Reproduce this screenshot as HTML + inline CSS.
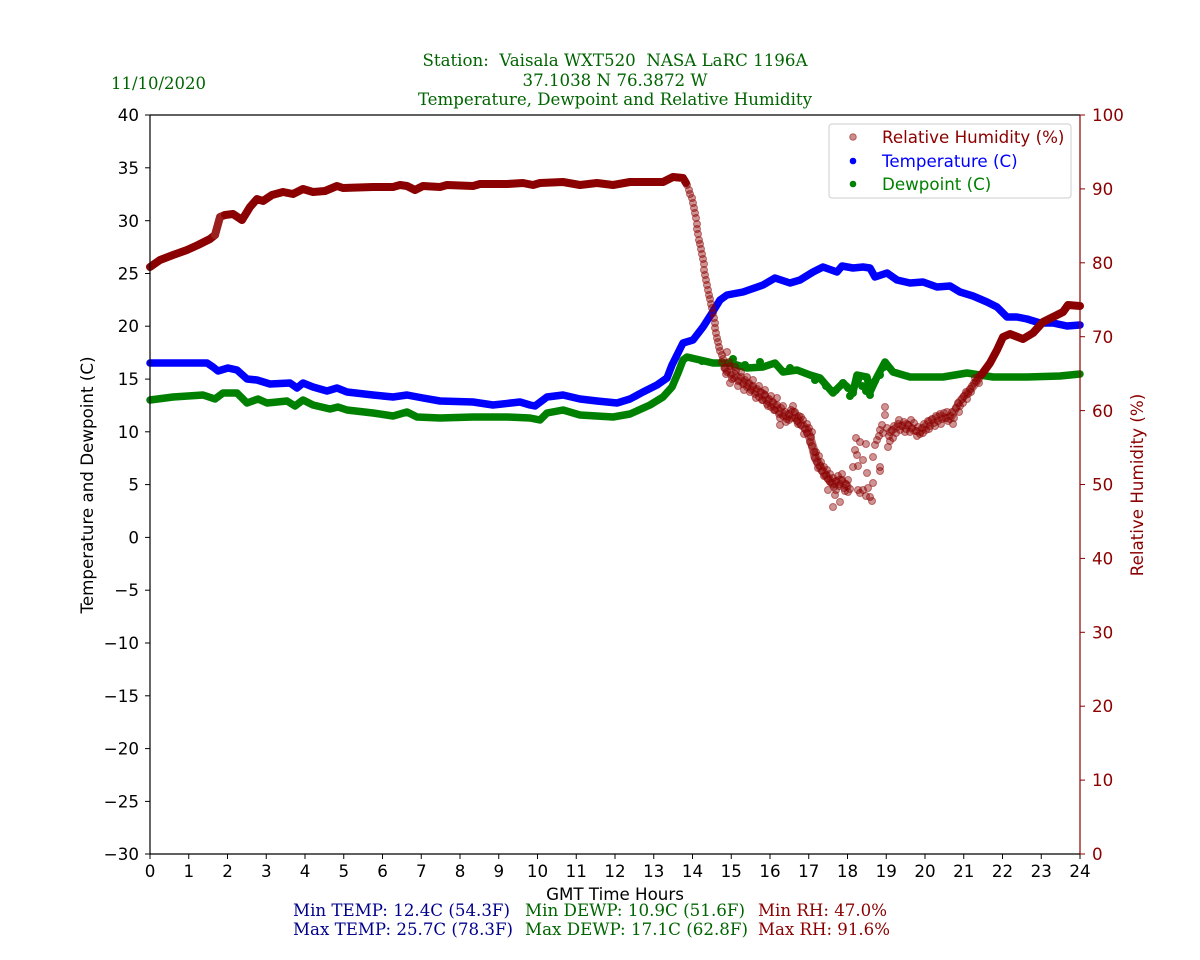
<!DOCTYPE html>
<html><head><meta charset="utf-8"><style>
html,body{margin:0;padding:0;background:#fff;}
svg{display:block;}
.t{font-family:"DejaVu Sans","Liberation Sans",sans-serif;font-size:16.7px;}
.s{font-family:"DejaVu Serif","Liberation Serif",serif;font-size:16.5px;font-stretch:condensed;}
</style></head><body>
<svg width="1200" height="960" viewBox="0 0 1200 960" xmlns="http://www.w3.org/2000/svg">
<rect width="1200" height="960" fill="#fff"/>
<!-- titles -->
<g class="s" fill="#006400">
<text x="615" y="66" text-anchor="middle" textLength="385" lengthAdjust="spacingAndGlyphs">Station:&#160; Vaisala WXT520&#160; NASA LaRC 1196A</text>
<text x="615" y="86" text-anchor="middle" textLength="185" lengthAdjust="spacingAndGlyphs">37.1038 N 76.3872 W</text>
<text x="615" y="105" text-anchor="middle" textLength="394" lengthAdjust="spacingAndGlyphs">Temperature, Dewpoint and Relative Humidity</text>
<text x="111" y="89" textLength="95" lengthAdjust="spacingAndGlyphs">11/10/2020</text>
</g>
<!-- stats -->
<g class="s">
<text x="293" y="916" fill="#00008b" textLength="217" lengthAdjust="spacingAndGlyphs">Min TEMP: 12.4C (54.3F)</text>
<text x="293" y="935" fill="#00008b" textLength="220" lengthAdjust="spacingAndGlyphs">Max TEMP: 25.7C (78.3F)</text>
<text x="525" y="916" fill="#006400" textLength="220" lengthAdjust="spacingAndGlyphs">Min DEWP: 10.9C (51.6F)</text>
<text x="525" y="935" fill="#006400" textLength="223" lengthAdjust="spacingAndGlyphs">Max DEWP: 17.1C (62.8F)</text>
<text x="758" y="916" fill="#8b0000" textLength="129" lengthAdjust="spacingAndGlyphs">Min RH: 47.0%</text>
<text x="758" y="935" fill="#8b0000" textLength="132" lengthAdjust="spacingAndGlyphs">Max RH: 91.6%</text>
</g>

<!-- data: temperature -->
<polyline fill="none" stroke="#0000ff" stroke-width="7.5" stroke-linejoin="round" stroke-linecap="round" points="150,363 207,363 213,367 218,371 228,368 237,370 247,379 257,380 270,384 290,383 297,388 303,383 313,387 327,391 337,388 347,392 373,395 393,397 407,395 423,398 440,401 473,402 493,405 520,402 530,405 535,406 547,397 563,395 580,399 597,401 617,403 630,399 643,392 657,385 667,378 672,365 678,353 683,343 693,340 703,327 712,313 720,300 727,295 743,292 763,285 775,278 790,283 800,280 813,272 823,267 837,272 842,266 853,268 863,267 870,268 875,277 887,273 897,280 910,283 923,282 937,287 950,286 960,292 973,296 987,302 997,307 1007,317 1017,317 1027,319 1040,323 1053,323 1067,326 1080,325"/>
<!-- data: dewpoint -->
<polyline fill="none" stroke="#008000" stroke-width="7.5" stroke-linejoin="round" stroke-linecap="round" points="150,400 173,397 203,395 215,399 223,393 237,393 247,403 258,399 267,403 287,401 295,406 303,400 313,405 330,409 338,407 347,410 373,413 393,416 407,412 417,417 440,418 473,417 507,417 530,418 540,420 547,413 563,410 580,415 613,417 630,414 650,405 663,397 672,387 678,373 683,360 687,357 713,363 730,363 747,368 763,367 775,363 783,372 797,370 810,375 820,378 833,393 843,383 853,392 857,375 867,377 870,392 877,377 885,362 893,372 910,377 943,377 967,373 993,377 1027,377 1060,376 1080,374"/>
<g fill="#008000">
<circle cx="843" cy="383" r="4"/><circle cx="848" cy="388" r="4"/><circle cx="853" cy="393" r="4"/><circle cx="858" cy="380" r="4"/><circle cx="862" cy="386" r="4"/><circle cx="866" cy="391" r="4"/><circle cx="870" cy="395" r="4"/><circle cx="875" cy="381" r="4"/><circle cx="880" cy="375" r="4"/><circle cx="884" cy="367" r="4"/><circle cx="850" cy="396" r="4"/><circle cx="836" cy="390" r="4"/><circle cx="826" cy="386" r="4"/><circle cx="815" cy="380" r="4"/><circle cx="733" cy="359" r="4"/><circle cx="760" cy="362" r="4"/><circle cx="702" cy="361" r="4"/><circle cx="745" cy="365" r="4"/><circle cx="790" cy="368" r="4"/>
</g>

<!-- data: RH dense segments -->
<polyline fill="none" stroke="#8b0000" stroke-width="8" stroke-linejoin="round" stroke-linecap="round" points="150,267 160,260 173,255 187,250 198,245 210,239 215,235"/>
<polyline fill="none" stroke="#9a2020" stroke-width="8" stroke-linejoin="round" stroke-linecap="round" points="215,235 220,217 225,215"/>
<polyline fill="none" stroke="#8b0000" stroke-width="8" stroke-linejoin="round" stroke-linecap="round" points="225,215 233,214 242,220 250,207 257,199 263,201 272,195 283,192 293,194 303,189 313,192 325,191 337,186 343,188 373,187 393,187 400,185 407,186 415,190 423,186 440,187 447,185 473,186 480,184 507,184 523,183 533,185 540,183 563,182 580,185 597,183 613,185 630,182 663,182 673,177 683,178 686,183"/>
<polyline fill="none" stroke="#8b0000" stroke-width="8" stroke-linejoin="round" stroke-linecap="round" points="982,374 990,363 997,350 1003,337 1010,334 1023,339 1033,333 1043,322 1053,317 1063,312 1068,305 1080,306"/>
<!-- band core -->
<polyline fill="none" stroke="#8b0000" stroke-opacity="0.6" stroke-width="9" stroke-linejoin="round" stroke-linecap="round" points="725,368 733,373 740,380 750,386 757,392 763,394 767,400 773,404 780,412 787,416 793,412 797,418 800,423 807,430 810,438 813,448 815,457 818,463 822,470 827,477 833,484 840,480 847,486"/>
<polyline fill="none" stroke="#8b0000" stroke-opacity="0.55" stroke-width="8" stroke-linejoin="round" stroke-linecap="round" points="890,432 897,427 907,424 913,430 920,432 930,421 940,416 950,419 955,410 960,401 967,393 973,387 980,377"/>

<!-- RH scatter -->
<g fill="#8b0000" fill-opacity="0.42" stroke="#8b0000" stroke-opacity="0.5" stroke-width="1">
<circle cx="687" cy="185" r="3.5"/><circle cx="689" cy="190" r="3.5"/><circle cx="690" cy="194" r="3.5"/><circle cx="692" cy="198" r="3.5"/><circle cx="693" cy="203" r="3.5"/><circle cx="694" cy="208" r="3.5"/><circle cx="695" cy="213" r="3.5"/><circle cx="696" cy="218" r="3.5"/><circle cx="697" cy="224" r="3.5"/><circle cx="697" cy="229" r="3.5"/><circle cx="698" cy="234" r="3.5"/><circle cx="699" cy="240" r="3.5"/><circle cx="700" cy="244" r="3.5"/><circle cx="701" cy="249" r="3.5"/><circle cx="702" cy="254" r="3.5"/><circle cx="703" cy="259" r="3.5"/><circle cx="704" cy="264" r="3.5"/><circle cx="704" cy="270" r="3.5"/><circle cx="705" cy="275" r="3.5"/><circle cx="706" cy="280" r="3.5"/><circle cx="707" cy="285" r="3.5"/><circle cx="708" cy="290" r="3.5"/><circle cx="709" cy="295" r="3.5"/><circle cx="710" cy="299" r="3.5"/><circle cx="711" cy="304" r="3.5"/><circle cx="712" cy="308" r="3.5"/><circle cx="713" cy="313" r="3.5"/><circle cx="714" cy="318" r="3.5"/><circle cx="715" cy="323" r="3.5"/><circle cx="715" cy="328" r="3.5"/><circle cx="716" cy="333" r="3.5"/><circle cx="717" cy="338" r="3.5"/><circle cx="718" cy="342" r="3.5"/><circle cx="719" cy="347" r="3.5"/><circle cx="720" cy="351" r="3.5"/><circle cx="722" cy="355" r="3.5"/><circle cx="723" cy="359" r="3.5"/><circle cx="727" cy="352" r="3.5"/>
<circle cx="722" cy="362" r="3.5"/><circle cx="725" cy="368" r="3.5"/><circle cx="727" cy="372" r="3.5"/><circle cx="730" cy="366" r="3.5"/><circle cx="731" cy="375" r="3.5"/><circle cx="730" cy="383" r="3.5"/><circle cx="734" cy="378" r="3.5"/><circle cx="736" cy="371" r="3.5"/><circle cx="738" cy="381" r="3.5"/><circle cx="741" cy="377" r="3.5"/><circle cx="743" cy="384" r="3.5"/><circle cx="745" cy="380" r="3.5"/><circle cx="747" cy="387" r="3.5"/><circle cx="749" cy="383" r="3.5"/><circle cx="751" cy="390" r="3.5"/><circle cx="753" cy="386" r="3.5"/><circle cx="755" cy="394" r="3.5"/><circle cx="757" cy="389" r="3.5"/><circle cx="759" cy="397" r="3.5"/><circle cx="761" cy="392" r="3.5"/><circle cx="763" cy="400" r="3.5"/><circle cx="765" cy="395" r="3.5"/><circle cx="767" cy="404" r="3.5"/><circle cx="769" cy="399" r="3.5"/><circle cx="771" cy="407" r="3.5"/><circle cx="773" cy="402" r="3.5"/><circle cx="775" cy="410" r="3.5"/><circle cx="777" cy="405" r="3.5"/><circle cx="779" cy="414" r="3.5"/><circle cx="781" cy="408" r="3.5"/><circle cx="780" cy="425" r="3.5"/><circle cx="783" cy="416" r="3.5"/><circle cx="785" cy="412" r="3.5"/><circle cx="787" cy="419" r="3.5"/><circle cx="789" cy="414" r="3.5"/><circle cx="791" cy="410" r="3.5"/><circle cx="793" cy="406" r="3.5"/><circle cx="795" cy="418" r="3.5"/><circle cx="797" cy="421" r="3.5"/><circle cx="799" cy="416" r="3.5"/><circle cx="801" cy="425" r="3.5"/><circle cx="803" cy="420" r="3.5"/><circle cx="805" cy="429" r="3.5"/><circle cx="807" cy="433" r="3.5"/><circle cx="809" cy="428" r="3.5"/><circle cx="811" cy="437" r="3.5"/><circle cx="812" cy="446" r="3.5"/><circle cx="814" cy="452" r="3.5"/><circle cx="815" cy="458" r="3.5"/><circle cx="817" cy="462" r="3.5"/><circle cx="819" cy="456" r="3.5"/><circle cx="820" cy="466" r="3.5"/><circle cx="822" cy="471" r="3.5"/><circle cx="824" cy="467" r="3.5"/><circle cx="826" cy="475" r="3.5"/><circle cx="828" cy="479" r="3.5"/><circle cx="830" cy="474" r="3.5"/><circle cx="832" cy="483" r="3.5"/><circle cx="834" cy="487" r="3.5"/><circle cx="836" cy="481" r="3.5"/><circle cx="838" cy="476" r="3.5"/><circle cx="840" cy="484" r="3.5"/><circle cx="842" cy="480" r="3.5"/><circle cx="844" cy="488" r="3.5"/><circle cx="846" cy="484" r="3.5"/><circle cx="848" cy="492" r="3.5"/><circle cx="850" cy="489" r="3.5"/><circle cx="833" cy="507" r="3.5"/><circle cx="840" cy="502" r="3.5"/><circle cx="835" cy="495" r="3.5"/><circle cx="828" cy="490" r="3.5"/>
<circle cx="726" cy="374" r="3.5"/><circle cx="729" cy="362" r="3.5"/><circle cx="732" cy="379" r="3.5"/><circle cx="735" cy="367" r="3.5"/><circle cx="738" cy="386" r="3.5"/><circle cx="741" cy="372" r="3.5"/><circle cx="744" cy="390" r="3.5"/><circle cx="747" cy="377" r="3.5"/><circle cx="750" cy="392" r="3.5"/><circle cx="753" cy="380" r="3.5"/><circle cx="756" cy="398" r="3.5"/><circle cx="759" cy="386" r="3.5"/><circle cx="762" cy="400" r="3.5"/><circle cx="765" cy="390" r="3.5"/><circle cx="768" cy="406" r="3.5"/><circle cx="771" cy="396" r="3.5"/><circle cx="774" cy="410" r="3.5"/><circle cx="777" cy="398" r="3.5"/><circle cx="780" cy="418" r="3.5"/><circle cx="783" cy="406" r="3.5"/><circle cx="786" cy="422" r="3.5"/><circle cx="789" cy="420" r="3.5"/><circle cx="792" cy="418" r="3.5"/><circle cx="795" cy="412" r="3.5"/><circle cx="798" cy="424" r="3.5"/><circle cx="801" cy="417" r="3.5"/><circle cx="804" cy="434" r="3.5"/><circle cx="807" cy="424" r="3.5"/><circle cx="810" cy="442" r="3.5"/><circle cx="812" cy="432" r="3.5"/><circle cx="816" cy="452" r="3.5"/><circle cx="818" cy="468" r="3.5"/><circle cx="821" cy="462" r="3.5"/><circle cx="824" cy="476" r="3.5"/><circle cx="827" cy="470" r="3.5"/><circle cx="830" cy="482" r="3.5"/><circle cx="833" cy="478" r="3.5"/><circle cx="836" cy="490" r="3.5"/><circle cx="839" cy="486" r="3.5"/><circle cx="842" cy="474" r="3.5"/><circle cx="845" cy="491" r="3.5"/><circle cx="848" cy="480" r="3.5"/>
<circle cx="860" cy="493" r="3.5"/><circle cx="863" cy="490" r="3.5"/><circle cx="866" cy="496" r="3.5"/><circle cx="870" cy="497" r="3.5"/><circle cx="872" cy="501" r="3.5"/><circle cx="873" cy="483" r="3.5"/><circle cx="868" cy="488" r="3.5"/><circle cx="858" cy="490" r="3.5"/>
<circle cx="853" cy="467" r="3.5"/><circle cx="858" cy="466" r="3.5"/><circle cx="867" cy="473" r="3.5"/><circle cx="863" cy="460" r="3.5"/><circle cx="860" cy="442" r="3.5"/><circle cx="855" cy="450" r="3.5"/><circle cx="857" cy="455" r="3.5"/><circle cx="866" cy="444" r="3.5"/><circle cx="873" cy="457" r="3.5"/><circle cx="880" cy="467" r="3.5"/><circle cx="880" cy="471" r="3.5"/><circle cx="856" cy="438" r="3.5"/>
<circle cx="875" cy="445" r="3.5"/><circle cx="877" cy="440" r="3.5"/><circle cx="879" cy="436" r="3.5"/><circle cx="880" cy="430" r="3.5"/><circle cx="882" cy="425" r="3.5"/><circle cx="883" cy="433" r="3.5"/><circle cx="885" cy="415" r="3.5"/><circle cx="885" cy="407" r="3.5"/><circle cx="887" cy="428" r="3.5"/><circle cx="888" cy="447" r="3.5"/><circle cx="889" cy="436" r="3.5"/><circle cx="890" cy="441" r="3.5"/><circle cx="892" cy="430" r="3.5"/><circle cx="894" cy="426" r="3.5"/><circle cx="896" cy="433" r="3.5"/><circle cx="898" cy="424" r="3.5"/><circle cx="900" cy="430" r="3.5"/><circle cx="902" cy="426" r="3.5"/><circle cx="904" cy="422" r="3.5"/><circle cx="906" cy="429" r="3.5"/><circle cx="908" cy="425" r="3.5"/><circle cx="910" cy="432" r="3.5"/><circle cx="912" cy="428" r="3.5"/><circle cx="914" cy="423" r="3.5"/><circle cx="916" cy="431" r="3.5"/><circle cx="918" cy="427" r="3.5"/><circle cx="920" cy="434" r="3.5"/><circle cx="922" cy="428" r="3.5"/><circle cx="924" cy="424" r="3.5"/><circle cx="926" cy="430" r="3.5"/><circle cx="928" cy="421" r="3.5"/><circle cx="930" cy="426" r="3.5"/><circle cx="932" cy="419" r="3.5"/><circle cx="934" cy="423" r="3.5"/><circle cx="936" cy="416" r="3.5"/><circle cx="938" cy="421" r="3.5"/><circle cx="940" cy="414" r="3.5"/><circle cx="942" cy="419" r="3.5"/><circle cx="944" cy="413" r="3.5"/><circle cx="946" cy="418" r="3.5"/><circle cx="948" cy="421" r="3.5"/><circle cx="950" cy="416" r="3.5"/><circle cx="952" cy="412" r="3.5"/><circle cx="954" cy="418" r="3.5"/><circle cx="956" cy="408" r="3.5"/><circle cx="958" cy="403" r="3.5"/><circle cx="960" cy="406" r="3.5"/><circle cx="962" cy="399" r="3.5"/><circle cx="964" cy="396" r="3.5"/><circle cx="966" cy="392" r="3.5"/><circle cx="968" cy="394" r="3.5"/><circle cx="970" cy="389" r="3.5"/><circle cx="972" cy="386" r="3.5"/><circle cx="974" cy="383" r="3.5"/><circle cx="976" cy="381" r="3.5"/><circle cx="978" cy="378" r="3.5"/><circle cx="980" cy="375" r="3.5"/>
<circle cx="893" cy="438" r="3.5"/><circle cx="899" cy="420" r="3.5"/><circle cx="905" cy="432" r="3.5"/><circle cx="911" cy="420" r="3.5"/><circle cx="917" cy="436" r="3.5"/><circle cx="923" cy="433" r="3.5"/><circle cx="929" cy="429" r="3.5"/><circle cx="935" cy="426" r="3.5"/><circle cx="941" cy="424" r="3.5"/><circle cx="947" cy="412" r="3.5"/><circle cx="953" cy="424" r="3.5"/><circle cx="959" cy="412" r="3.5"/><circle cx="963" cy="403" r="3.5"/><circle cx="967" cy="399" r="3.5"/><circle cx="971" cy="392" r="3.5"/><circle cx="975" cy="378" r="3.5"/><circle cx="979" cy="383" r="3.5"/>
</g>

<!-- axes frame -->
<g stroke="#000" stroke-width="1.2" fill="none">
<line x1="150" y1="115" x2="1080" y2="115"/>
<line x1="150" y1="115" x2="150" y2="854"/>
<line x1="150" y1="854" x2="1080" y2="854"/>
</g>
<line x1="1080" y1="115" x2="1080" y2="854" stroke="#8b0000" stroke-width="1.2"/>

<!-- left ticks -->
<g stroke="#000" stroke-width="1">
<line x1="145" y1="115" x2="150" y2="115"/><line x1="145" y1="167.8" x2="150" y2="167.8"/><line x1="145" y1="220.7" x2="150" y2="220.7"/><line x1="145" y1="273.5" x2="150" y2="273.5"/><line x1="145" y1="326.2" x2="150" y2="326.2"/><line x1="145" y1="379.1" x2="150" y2="379.1"/><line x1="145" y1="431.8" x2="150" y2="431.8"/><line x1="145" y1="484.6" x2="150" y2="484.6"/><line x1="145" y1="537.4" x2="150" y2="537.4"/><line x1="145" y1="590.2" x2="150" y2="590.2"/><line x1="145" y1="643" x2="150" y2="643"/><line x1="145" y1="695.8" x2="150" y2="695.8"/><line x1="145" y1="748.6" x2="150" y2="748.6"/><line x1="145" y1="801.4" x2="150" y2="801.4"/><line x1="145" y1="854" x2="150" y2="854"/>
</g>
<g class="t" fill="#000" text-anchor="end">
<text x="139" y="121">40</text><text x="139" y="174">35</text><text x="139" y="227">30</text><text x="139" y="279.5">25</text><text x="139" y="332">20</text><text x="139" y="385">15</text><text x="139" y="438">10</text><text x="139" y="490.5">5</text><text x="139" y="543.5">0</text><text x="139" y="596">−5</text><text x="139" y="649">−10</text><text x="139" y="702">−15</text><text x="139" y="754.5">−20</text><text x="139" y="807.5">−25</text><text x="139" y="860">−30</text>
</g>

<!-- bottom ticks -->
<g stroke="#000" stroke-width="1">
<line x1="150" y1="854" x2="150" y2="859"/><line x1="188.75" y1="854" x2="188.75" y2="859"/><line x1="227.5" y1="854" x2="227.5" y2="859"/><line x1="266.25" y1="854" x2="266.25" y2="859"/><line x1="305" y1="854" x2="305" y2="859"/><line x1="343.75" y1="854" x2="343.75" y2="859"/><line x1="382.5" y1="854" x2="382.5" y2="859"/><line x1="421.25" y1="854" x2="421.25" y2="859"/><line x1="460" y1="854" x2="460" y2="859"/><line x1="498.75" y1="854" x2="498.75" y2="859"/><line x1="537.5" y1="854" x2="537.5" y2="859"/><line x1="576.25" y1="854" x2="576.25" y2="859"/><line x1="615" y1="854" x2="615" y2="859"/><line x1="653.75" y1="854" x2="653.75" y2="859"/><line x1="692.5" y1="854" x2="692.5" y2="859"/><line x1="731.25" y1="854" x2="731.25" y2="859"/><line x1="770" y1="854" x2="770" y2="859"/><line x1="808.75" y1="854" x2="808.75" y2="859"/><line x1="847.5" y1="854" x2="847.5" y2="859"/><line x1="886.25" y1="854" x2="886.25" y2="859"/><line x1="925" y1="854" x2="925" y2="859"/><line x1="963.75" y1="854" x2="963.75" y2="859"/><line x1="1002.5" y1="854" x2="1002.5" y2="859"/><line x1="1041.25" y1="854" x2="1041.25" y2="859"/><line x1="1080" y1="854" x2="1080" y2="859"/>
</g>
<g class="t" fill="#000" text-anchor="middle">
<text x="150" y="877">0</text><text x="188.75" y="877">1</text><text x="227.5" y="877">2</text><text x="266.25" y="877">3</text><text x="305" y="877">4</text><text x="343.75" y="877">5</text><text x="382.5" y="877">6</text><text x="421.25" y="877">7</text><text x="460" y="877">8</text><text x="498.75" y="877">9</text><text x="537.5" y="877">10</text><text x="576.25" y="877">11</text><text x="615" y="877">12</text><text x="653.75" y="877">13</text><text x="692.5" y="877">14</text><text x="731.25" y="877">15</text><text x="770" y="877">16</text><text x="808.75" y="877">17</text><text x="847.5" y="877">18</text><text x="886.25" y="877">19</text><text x="925" y="877">20</text><text x="963.75" y="877">21</text><text x="1002.5" y="877">22</text><text x="1041.25" y="877">23</text><text x="1080" y="877">24</text>
<text x="615" y="900">GMT Time Hours</text>
</g>

<!-- right ticks -->
<g stroke="#8b0000" stroke-width="1">
<line x1="1080" y1="115" x2="1085" y2="115"/><line x1="1080" y1="188.9" x2="1085" y2="188.9"/><line x1="1080" y1="262.8" x2="1085" y2="262.8"/><line x1="1080" y1="336.7" x2="1085" y2="336.7"/><line x1="1080" y1="410.6" x2="1085" y2="410.6"/><line x1="1080" y1="484.5" x2="1085" y2="484.5"/><line x1="1080" y1="558.4" x2="1085" y2="558.4"/><line x1="1080" y1="632.3" x2="1085" y2="632.3"/><line x1="1080" y1="706.2" x2="1085" y2="706.2"/><line x1="1080" y1="780.1" x2="1085" y2="780.1"/><line x1="1080" y1="854" x2="1085" y2="854"/>
</g>
<g class="t" fill="#8b0000">
<text x="1092" y="121">100</text><text x="1092" y="195">90</text><text x="1092" y="269">80</text><text x="1092" y="343">70</text><text x="1092" y="417">60</text><text x="1092" y="490.5">50</text><text x="1092" y="564.5">40</text><text x="1092" y="638.5">30</text><text x="1092" y="712">20</text><text x="1092" y="786">10</text><text x="1092" y="860">0</text>
</g>

<!-- axis labels -->
<text class="t" fill="#000" text-anchor="middle" transform="translate(93,485) rotate(-90)">Temperature and Dewpoint (C)</text>
<text class="t" fill="#8b0000" text-anchor="middle" transform="translate(1143,485) rotate(-90)">Relative Humidity (%)</text>

<!-- legend -->
<rect x="829" y="124" width="242" height="74" rx="3" ry="3" fill="#fff" fill-opacity="0.8" stroke="#cccccc" stroke-width="1"/>
<circle cx="853" cy="137" r="3.3" fill="#8b0000" fill-opacity="0.45" stroke="#8b0000" stroke-opacity="0.5"/>
<circle cx="853" cy="161" r="3.3" fill="#0000ff"/>
<circle cx="853" cy="184" r="3.3" fill="#008000"/>
<g class="t">
<text x="882" y="143" fill="#8b0000">Relative Humidity (%)</text>
<text x="882" y="167" fill="#0000ff">Temperature (C)</text>
<text x="882" y="190" fill="#008000">Dewpoint (C)</text>
</g>
</svg>
</body></html>
